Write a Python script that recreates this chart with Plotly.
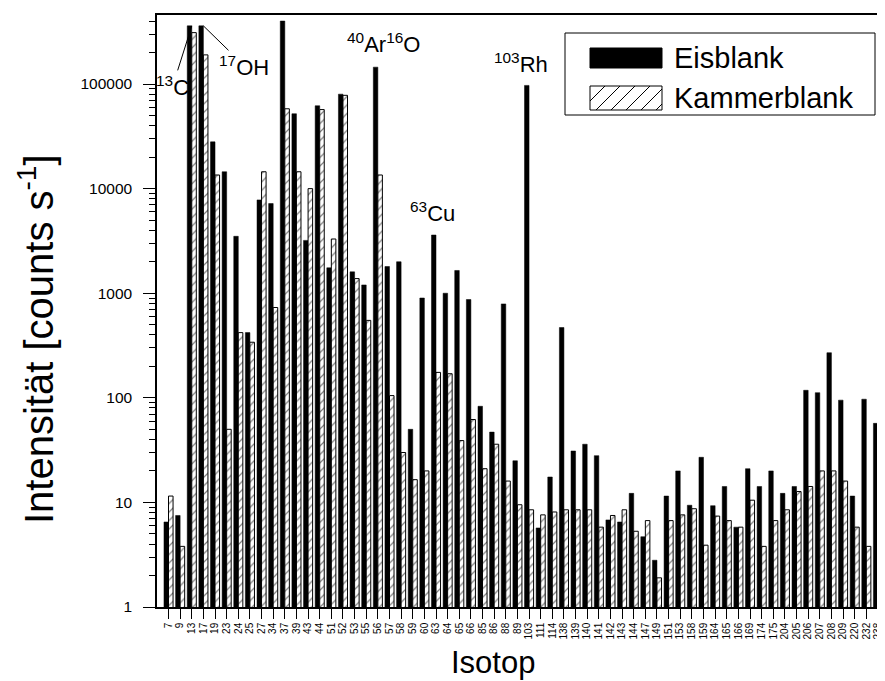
import math
import plotly.graph_objects as go

# ---------------- data ----------------
isotopes = ['7', '9', '13', '17', '19', '23', '24', '25', '27', '34', '37', '39', '43', '44',
            '51', '52', '53', '55', '56', '57', '58', '59', '60', '63', '64', '65', '66', '85',
            '86', '88', '89', '103', '111', '114', '138', '139', '140', '141', '142', '143',
            '144', '147', '149', '151', '153', '158', '159', '164', '165', '166', '169', '174',
            '175', '204', '205', '206', '207', '208', '209', '220', '232', '238']

eisblank = [6.5, 7.5, 360000, 360000, 28000, 14500, 3500, 420, 7800, 7200, 400000, 52000,
            3200, 62000, 1750, 80000, 1600, 1200, 145000, 1800, 2000, 50, 900, 3600, 1000,
            1650, 870, 83, 47, 790, 25, 97000, 5.7, 17.5, 470, 31, 36, 28, 6.8, 6.5,
            12.2, 4.7, 2.8, 11.5, 20, 9.4, 27, 9.3, 14.2, 5.8, 21, 14.2, 20, 12.2, 14.2,
            118, 112, 270, 95, 11.5, 97, 57]

kammerblank = [11.5, 3.8, 310000, 190000, 13500, 50, 420, 340, 14500, 730, 58000, 14500,
               10000, 57000, 3300, 78000, 1380, 550, 13500, 105, 30, 16.5, 20, 175, 170,
               39, 62, 21, 36, 16, 9.5, 8.5, 7.6, 8.1, 8.5, 8.5, 8.5, 5.8, 7.5, 8.5,
               5.3, 6.7, 1.9, 6.7, 7.6, 8.7, 3.9, 7.4, 6.7, 5.8, 10.5, 3.8, 6.7, 8.5, 12.7,
               14.2, 20, 20, 16, 5.8, 3.8, 5.8]

y_tickvals = [1, 10, 100, 1000, 10000, 100000]
y_ticktext = ['1', '10', '100', '1000', '10000', '100000']

FONT = 'Liberation Sans, Arial, sans-serif'

# page body has an 8px margin; figure is sized so it fits the 885x681 window
W, H = 877, 673
L, R, T, B = 149, 1, 7, 74
# plot area in window pixels
SX0, SX1, SY0, SY1 = 157, 884, 15, 607


def px(sx):
    return (sx - SX0) / (SX1 - SX0)


def py(sy):
    return (SY1 - sy) / (SY1 - SY0)


fig = go.Figure()
fig.add_trace(go.Bar(
    x=isotopes, y=eisblank, name='Eisblank',
    marker=dict(color='black', line=dict(color='black', width=0.5)),
    showlegend=False))
fig.add_trace(go.Bar(
    x=isotopes, y=kammerblank, name='Kammerblank',
    marker=dict(color='white', line=dict(color='black', width=1),
                pattern=dict(shape='/', fgcolor='black', bgcolor='white', size=6, solidity=0.2)),
    showlegend=False))

# ---- custom legend (box, swatches, text) ----
shapes = []
shapes.append(dict(type='rect', xref='paper', yref='paper',
                   x0=px(565), x1=px(875), y0=py(115), y1=py(33),
                   line=dict(color='black', width=1), fillcolor='white', layer='above'))
shapes.append(dict(type='rect', xref='paper', yref='paper',
                   x0=px(590), x1=px(662), y0=py(68), y1=py(48),
                   line=dict(color='black', width=1), fillcolor='black', layer='above'))
shapes.append(dict(type='rect', xref='paper', yref='paper',
                   x0=px(590), x1=px(662), y0=py(110), y1=py(86),
                   line=dict(color='black', width=1), fillcolor='white', layer='above'))
sx0, sx1, sy0, sy1 = 590, 662, 86, 110
hh = sy1 - sy0
step = 15
k = sx0 - hh
while k < sx1:
    xa, ya = k, sy1
    xb, yb = k + hh, sy0
    if xa < sx0:
        ya = sy1 - (sx0 - xa)
        xa = sx0
    if xb > sx1:
        yb = sy0 + (xb - sx1)
        xb = sx1
    if xb > xa:
        shapes.append(dict(type='line', xref='paper', yref='paper',
                           x0=px(xa), y0=py(ya), x1=px(xb), y1=py(yb),
                           line=dict(color='black', width=1), layer='above'))
    k += step

lab_font = dict(family=FONT, size=22, color='black')
annotations = [
    dict(xref='paper', yref='paper', x=px(672), y=py(58), text='Eisblank',
         showarrow=False, xanchor='left', yanchor='middle',
         font=dict(family=FONT, size=29, color='black')),
    dict(xref='paper', yref='paper', x=px(672), y=py(98), text='Kammerblank',
         showarrow=False, xanchor='left', yanchor='middle',
         font=dict(family=FONT, size=29, color='black')),
    # peak labels
    dict(x=isotopes.index('13'), y=math.log10(eisblank[isotopes.index('13')]), xref='x', yref='y',
         text='<sup>13</sup>C', showarrow=True, arrowhead=0, arrowwidth=1,
         arrowcolor='black', ax=-19, ay=60, font=lab_font),
    dict(x=isotopes.index('17'), y=math.log10(eisblank[isotopes.index('17')]), xref='x', yref='y',
         text='<sup>17</sup>OH', showarrow=True, arrowhead=0, arrowwidth=1,
         arrowcolor='black', ax=41, ay=40, font=lab_font),
    dict(xref='paper', yref='paper', x=px(383), y=py(27), xanchor='center',
         text='<sup>40</sup>Ar<sup>16</sup>O', showarrow=False, font=lab_font),
    dict(xref='paper', yref='paper', x=px(432), y=py(196), xanchor='center',
         text='<sup>63</sup>Cu', showarrow=False, font=lab_font),
    dict(xref='paper', yref='paper', x=px(521), y=py(47), xanchor='center',
         text='<sup>103</sup>Rh', showarrow=False, font=lab_font),
    # axis titles
    dict(xref='paper', yref='paper', x=px(493), y=py(662), text='Isotop',
         showarrow=False, xanchor='center', yanchor='middle',
         font=dict(family=FONT, size=31, color='black')),
    dict(xref='paper', yref='paper', x=px(36), y=py(339),
         text='Intensität [counts s<sup>-1</sup>]', textangle=-90,
         showarrow=False, xanchor='center', yanchor='middle',
         font=dict(family=FONT, size=40, color='black')),
]

fig.update_layout(
    width=W, height=H,
    margin=dict(l=L, r=R, t=T, b=B, autoexpand=False),
    paper_bgcolor='white', plot_bgcolor='white',
    barmode='group', bargap=0.22, bargroupgap=0.0,
    font=dict(family=FONT, color='black'),
    shapes=shapes, annotations=annotations,
    showlegend=False,
)

fig.update_xaxes(
    type='category', categoryorder='array', categoryarray=isotopes,
    range=[-0.99, 61.52],
    tickmode='array', tickvals=isotopes, ticktext=isotopes,
    ticklabeloverflow='allow',
    showline=True, linecolor='black', linewidth=1.5, mirror=True,
    ticks='outside', ticklen=10, tickcolor='black', tickwidth=1,
    tickangle=-90, tickfont=dict(family=FONT, size=10, color='black'),
    showgrid=False, zeroline=False,
)

fig.update_yaxes(
    type='log', range=[0, 5.66],
    tickmode='array', tickvals=y_tickvals, ticktext=y_ticktext,
    showline=True, linecolor='black', linewidth=1.5, mirror=True,
    ticks='outside', ticklen=12, tickcolor='black', tickwidth=1,
    ticklabelstandoff=8,
    minor=dict(ticks='outside', ticklen=6, tickcolor='black', dtick='D1', showgrid=False),
    tickfont=dict(family=FONT, size=15.5, color='black'),
    showgrid=False, zeroline=False,
)

fig.write_html('out.html')
